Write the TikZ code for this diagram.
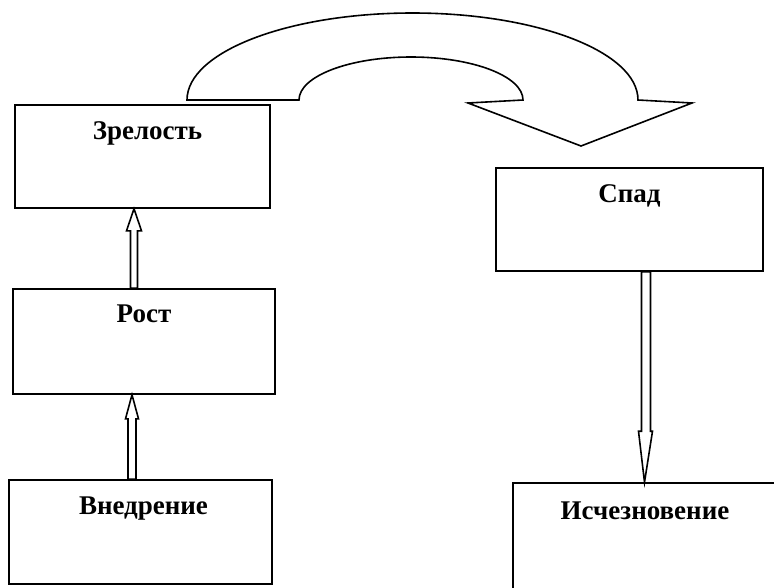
\documentclass[tikz,border=0pt]{standalone}
\usepackage{fontspec}
\setmainfont{Liberation Serif}
\usetikzlibrary{calc}
\tikzset{
  box/.style={draw=black, line width=1.6pt, fill=white, rectangle, inner sep=0pt},
  lab/.style={font=\bfseries\fontsize{27}{31}\selectfont, anchor=base, inner sep=0pt},
  hollow/.style={draw=black, line width=1.6pt, fill=white, line join=miter}
}
\begin{document}
\begin{tikzpicture}[x=1pt,y=1pt]
\path[use as bounding box, clip] (0,0) rectangle (774,-587);
\fill[white] (0,0) rectangle (774,-587);
% boxes
\node[box, minimum width=255pt, minimum height=103pt] (zr) at (142.5,-156.5) {};
\node[box, minimum width=262pt, minimum height=105pt] (rost) at (144,-341.5) {};
\node[box, minimum width=263pt, minimum height=104pt] (vn) at (140.5,-532) {};
\node[box, minimum width=267pt, minimum height=103pt] (spad) at (629.5,-219.5) {};
\node[box, minimum width=264pt, minimum height=110pt] (isch) at (645,-538) {};
% labels
\node[lab] (tzr) at ($(zr.north)+(5,-35)$) {Зрелость};
\node[lab] (trost) at ($(rost.north)+(0,-34)$) {Рост};
\node[lab] (tvn) at ($(vn.north)+(3,-35)$) {Внедрение};
\node[lab] (tspad) at ($(spad.north)+(0,-35)$) {Спад};
\node[lab] (tisch) at ($(isch.north)+(0,-37)$) {Исчезновение};
% hollow arrows
\draw[hollow] let \p1=($(vn.north)+(-8.5,0)$), \p2=(rost.south) in
  (\x1-4pt,\y1) -- (\x1-4pt,\y2-24pt) -- (\x1-6.5pt,\y2-24pt) -- (\x1,\y2)
  -- (\x1+6.5pt,\y2-24pt) -- (\x1+4pt,\y2-24pt) -- (\x1+4pt,\y1) -- cycle;
\draw[hollow] let \p1=($(rost.north)+(-10,0)$), \p2=(zr.south) in
  (\x1-3.5pt,\y1) -- (\x1-3.5pt,\y2-22pt) -- (\x1-7.5pt,\y2-22pt) -- (\x1,\y2)
  -- (\x1+7.5pt,\y2-22pt) -- (\x1+3.5pt,\y2-22pt) -- (\x1+3.5pt,\y1) -- cycle;
\draw[hollow] let \p1=($(spad.south)+(16.5,0)$), \p2=(isch.north) in
  (\x1-4.5pt,\y1) -- (\x1-4.5pt,\y2+51pt) -- (\x1-7.5pt,\y2+51pt) -- (\x1-1.5pt,\y2)
  -- (\x1+6.5pt,\y2+51pt) -- (\x1+4.5pt,\y2+51pt) -- (\x1+4.5pt,\y1) -- cycle;
% big curved arrow
\draw[hollow] (187,-100) arc[start angle=180,end angle=0,x radius=225.5,y radius=87]
  -- (692,-103) -- (581,-146) -- (468,-103) -- (523,-100)
  arc[start angle=0,end angle=180,x radius=112,y radius=43] -- cycle;
\end{tikzpicture}
\end{document}
